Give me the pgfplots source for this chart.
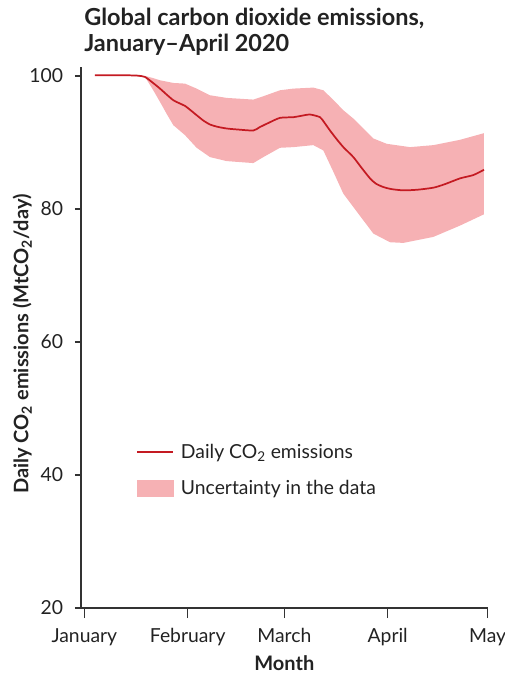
\documentclass[border=0pt]{standalone}
\usepackage{fontspec}
\setmainfont{Lato}
\usepackage{pgfplots}
\usepackage{pgfplotstable}
\pgfplotsset{compat=1.18}
\usepgfplotslibrary{fillbetween}
\definecolor{linered}{RGB}{196,26,34}
\definecolor{bandc}{RGB}{246,177,180}
\definecolor{axgray}{RGB}{51,51,51}
\definecolor{txt}{RGB}{34,34,34}

\pgfplotstableread{
day val
3.2 100.1
8 100.1
12.7 100.1
16 100.05
18.2 99.85
20.5 99.0
22.7 98.1
24.7 97.2
26.7 96.35
28.5 95.9
30.2 95.5
32 94.8
33.7 94.1
35.7 93.3
37.7 92.7
40 92.35
42.7 92.1
46 91.95
50.7 91.8
52.6 92.3
55.5 93.0
58.7 93.7
62.7 93.8
65 94.0
67.7 94.2
70.7 93.8
72 93.0
73.7 91.8
75.7 90.5
77.7 89.3
80.7 87.8
83 86.3
85.7 84.6
87.5 83.8
89.7 83.3
92 83.0
95.7 82.8
100 82.9
104.7 83.2
108 83.7
112.7 84.6
116.7 85.1
119.9 85.9
}\linedata

\pgfplotstableread{
day val
3.2 100.1
12.7 100.1
18.2 100.0
20.5 99.7
22.7 99.35
26.7 98.95
30.2 98.85
33.7 98.1
37.7 97.1
42.7 96.7
50.7 96.45
53.7 96.95
58.7 97.85
62.7 98.1
68.7 98.25
71.7 97.85
74.7 96.4
77.7 94.85
80.7 93.6
83.7 92.1
86.7 90.6
90.7 89.8
97.7 89.3
104.7 89.6
112.7 90.4
119.9 91.4
}\upperdata

\pgfplotstableread{
day val
3.2 100.1
12.7 100.1
18.2 99.85
20.5 98.0
22.7 96.1
24.7 94.3
26.7 92.6
30.2 91.1
33.7 89.2
37.7 87.8
42.7 87.2
50.7 86.9
53.7 87.8
58.7 89.2
62.7 89.3
68.7 89.6
71.7 88.8
74.7 85.6
77.7 82.3
80.7 80.3
83.7 78.3
86.7 76.3
91.7 75.0
95.7 74.9
104.7 75.8
112.7 77.5
119.9 79.2
}\lowerdata

\begin{document}
\begin{tikzpicture}
\begin{axis}[
  scale only axis, width=305pt, height=406pt,
  xmin=-1, xmax=121, ymin=20, ymax=101.4,
  clip=false,
  axis x line*=bottom, axis y line*=left,
  axis line style={axgray, line width=0.9pt},
  xtick={0,31,60,91,121},
  xticklabels={January,February,March,April,May},
  ytick={20,40,60,80,100},
  tick align=outside,
  x tick style={axgray, line width=0.9pt, /pgfplots/major tick length=7.5pt},
  y tick style={axgray, line width=0.9pt, /pgfplots/major tick length=4.5pt},
  /pgf/number format/assume math mode=true,
  ticklabel style={font=\fontsize{14.5}{17}\selectfont, text=txt},
  yticklabel style={anchor=east, inner sep=0pt, xshift=-9pt},
  xticklabel style={anchor=base, inner sep=0pt, yshift=-21.8pt},
  xlabel={Month},
  ylabel={Daily CO\textsubscript{2} emissions (MtCO\textsubscript{2}/day)},
  every axis x label/.style={at={(axis description cs:0.5,-0.1150)}, anchor=base,
     font=\bfseries\fontsize{15}{18}\selectfont, text=txt},
  every axis y label/.style={at={(axis description cs:-0.1297,0.4877)}, anchor=base, rotate=90,
     font=\bfseries\fontsize{15}{18}\selectfont, text=txt},
  legend cell align=left,
  legend style={draw=none, fill=none, at={(axis description cs:0.1354,0.3035)}, anchor=north west,
     inner sep=0pt, row sep=14.6pt, column sep=5.2pt,
     font=\fontsize{14.5}{17}\selectfont, text=txt, nodes={inner sep=0pt}},
]
\addplot[draw=none, name path=up, forget plot] table[x=day, y=val] {\upperdata};
\addplot[draw=none, name path=lo, forget plot] table[x=day, y=val] {\lowerdata};
\addplot[fill=bandc, draw=none, forget plot] fill between[of=up and lo];
\addplot[linered, line width=1.3pt, smooth, tension=0.4,
   legend image code/.code={\draw[linered, line width=1.3pt] (0pt,0pt) -- (27pt,0pt);}]
   table[x=day, y=val] {\linedata};
\addlegendentry{Daily CO\textsubscript{2} emissions}
\addlegendimage{legend image code/.code={\fill[bandc] (0pt,-6pt) rectangle (27pt,6pt);}}
\addlegendentry{Uncertainty in the data}
\node[anchor=base west, inner sep=0pt, font=\bfseries\fontsize{17.6}{20}\selectfont, text=txt]
   at (axis description cs:0.0074,1.0752) {Global carbon dioxide emissions,};
\node[anchor=base west, inner sep=0pt, font=\bfseries\fontsize{17.6}{20}\selectfont, text=txt]
   at (axis description cs:0.0074,1.0277) {January–April 2020};
\end{axis}
\path (current axis.south west) ++(-60.75pt,-48.75pt) coordinate (bl);
\path (current axis.north east) ++(12.5pt,50pt) coordinate (tr);
\pgfresetboundingbox
\useasboundingbox (bl) rectangle (tr);
\end{tikzpicture}
\end{document}
